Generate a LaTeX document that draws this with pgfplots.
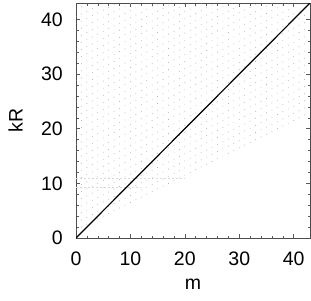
\documentclass[border=0pt]{standalone}
\usepackage{fontspec}
\setmainfont{Liberation Sans}
\usepackage{pgfplots}
\pgfplotsset{compat=1.18}
\begin{document}
\begin{tikzpicture}
\begin{axis}[
  scale only axis, width=234pt, height=235pt,
  xmin=0, xmax=43, ymin=0, ymax=43,
  xtick={0,10,20,30,40}, ytick={0,10,20,30,40},
  minor x tick num=4, minor y tick num=4,
  tick align=inside, major tick length=4pt, minor tick length=2.5pt,
  tick style={gray!70!black, line width=0.5pt},
  axis line style={gray!60!black, line width=1pt},
  /pgf/number format/assume math mode=true,
  tick label style={font=\fontsize{19.5}{22}\selectfont},
  label style={font=\fontsize{19.5}{22}\selectfont},
  xlabel={m}, ylabel={kR},
  xticklabel style={anchor=center, inner sep=0pt, yshift=-20.5pt},
  yticklabel style={anchor=east, inner sep=0pt, xshift=-13pt},
  xlabel style={at={(rel axis cs:0.5,0)}, anchor=center, inner sep=0pt, yshift=-46pt},
  ylabel style={at={(rel axis cs:0,0.5)}, anchor=center, inner sep=0pt, yshift=60.5pt},
  clip=true,
]
% faint dotted families (dots at integer m)
\pgfplotsinvokeforeach{1.5,2.8,4.1,5.4,6.7,8.0,9.3,10.6,11.9,13.2,14.5,15.8,17.1,18.4,19.7,21.0,22.3,23.6,24.9,26.2,27.5,28.8,30.1,31.4,32.7,34.0,35.3,36.6,37.9,39.2,40.5,41.8}{
  \addplot[gray!70, line width=0.9pt, line cap=round, dash pattern=on 0pt off 6.09pt] coordinates {(0,#1) (43,#1+21.5)};
}
\addplot[gray!30, line width=0.6pt, dash pattern=on 2pt off 2pt] coordinates {(0,11) (20,11)};
\addplot[gray!30, line width=0.6pt, dash pattern=on 2pt off 2pt] coordinates {(0,9.3) (12,9.3)};
\addplot[black, line width=1.2pt] coordinates {(0,0) (43,43)};
\end{axis}
\pgfresetboundingbox
\path[use as bounding box] ([shift={(-76pt,-62pt)}]current axis.south west) rectangle ([shift={(1pt,3pt)}]current axis.north east);
\end{tikzpicture}
\end{document}
